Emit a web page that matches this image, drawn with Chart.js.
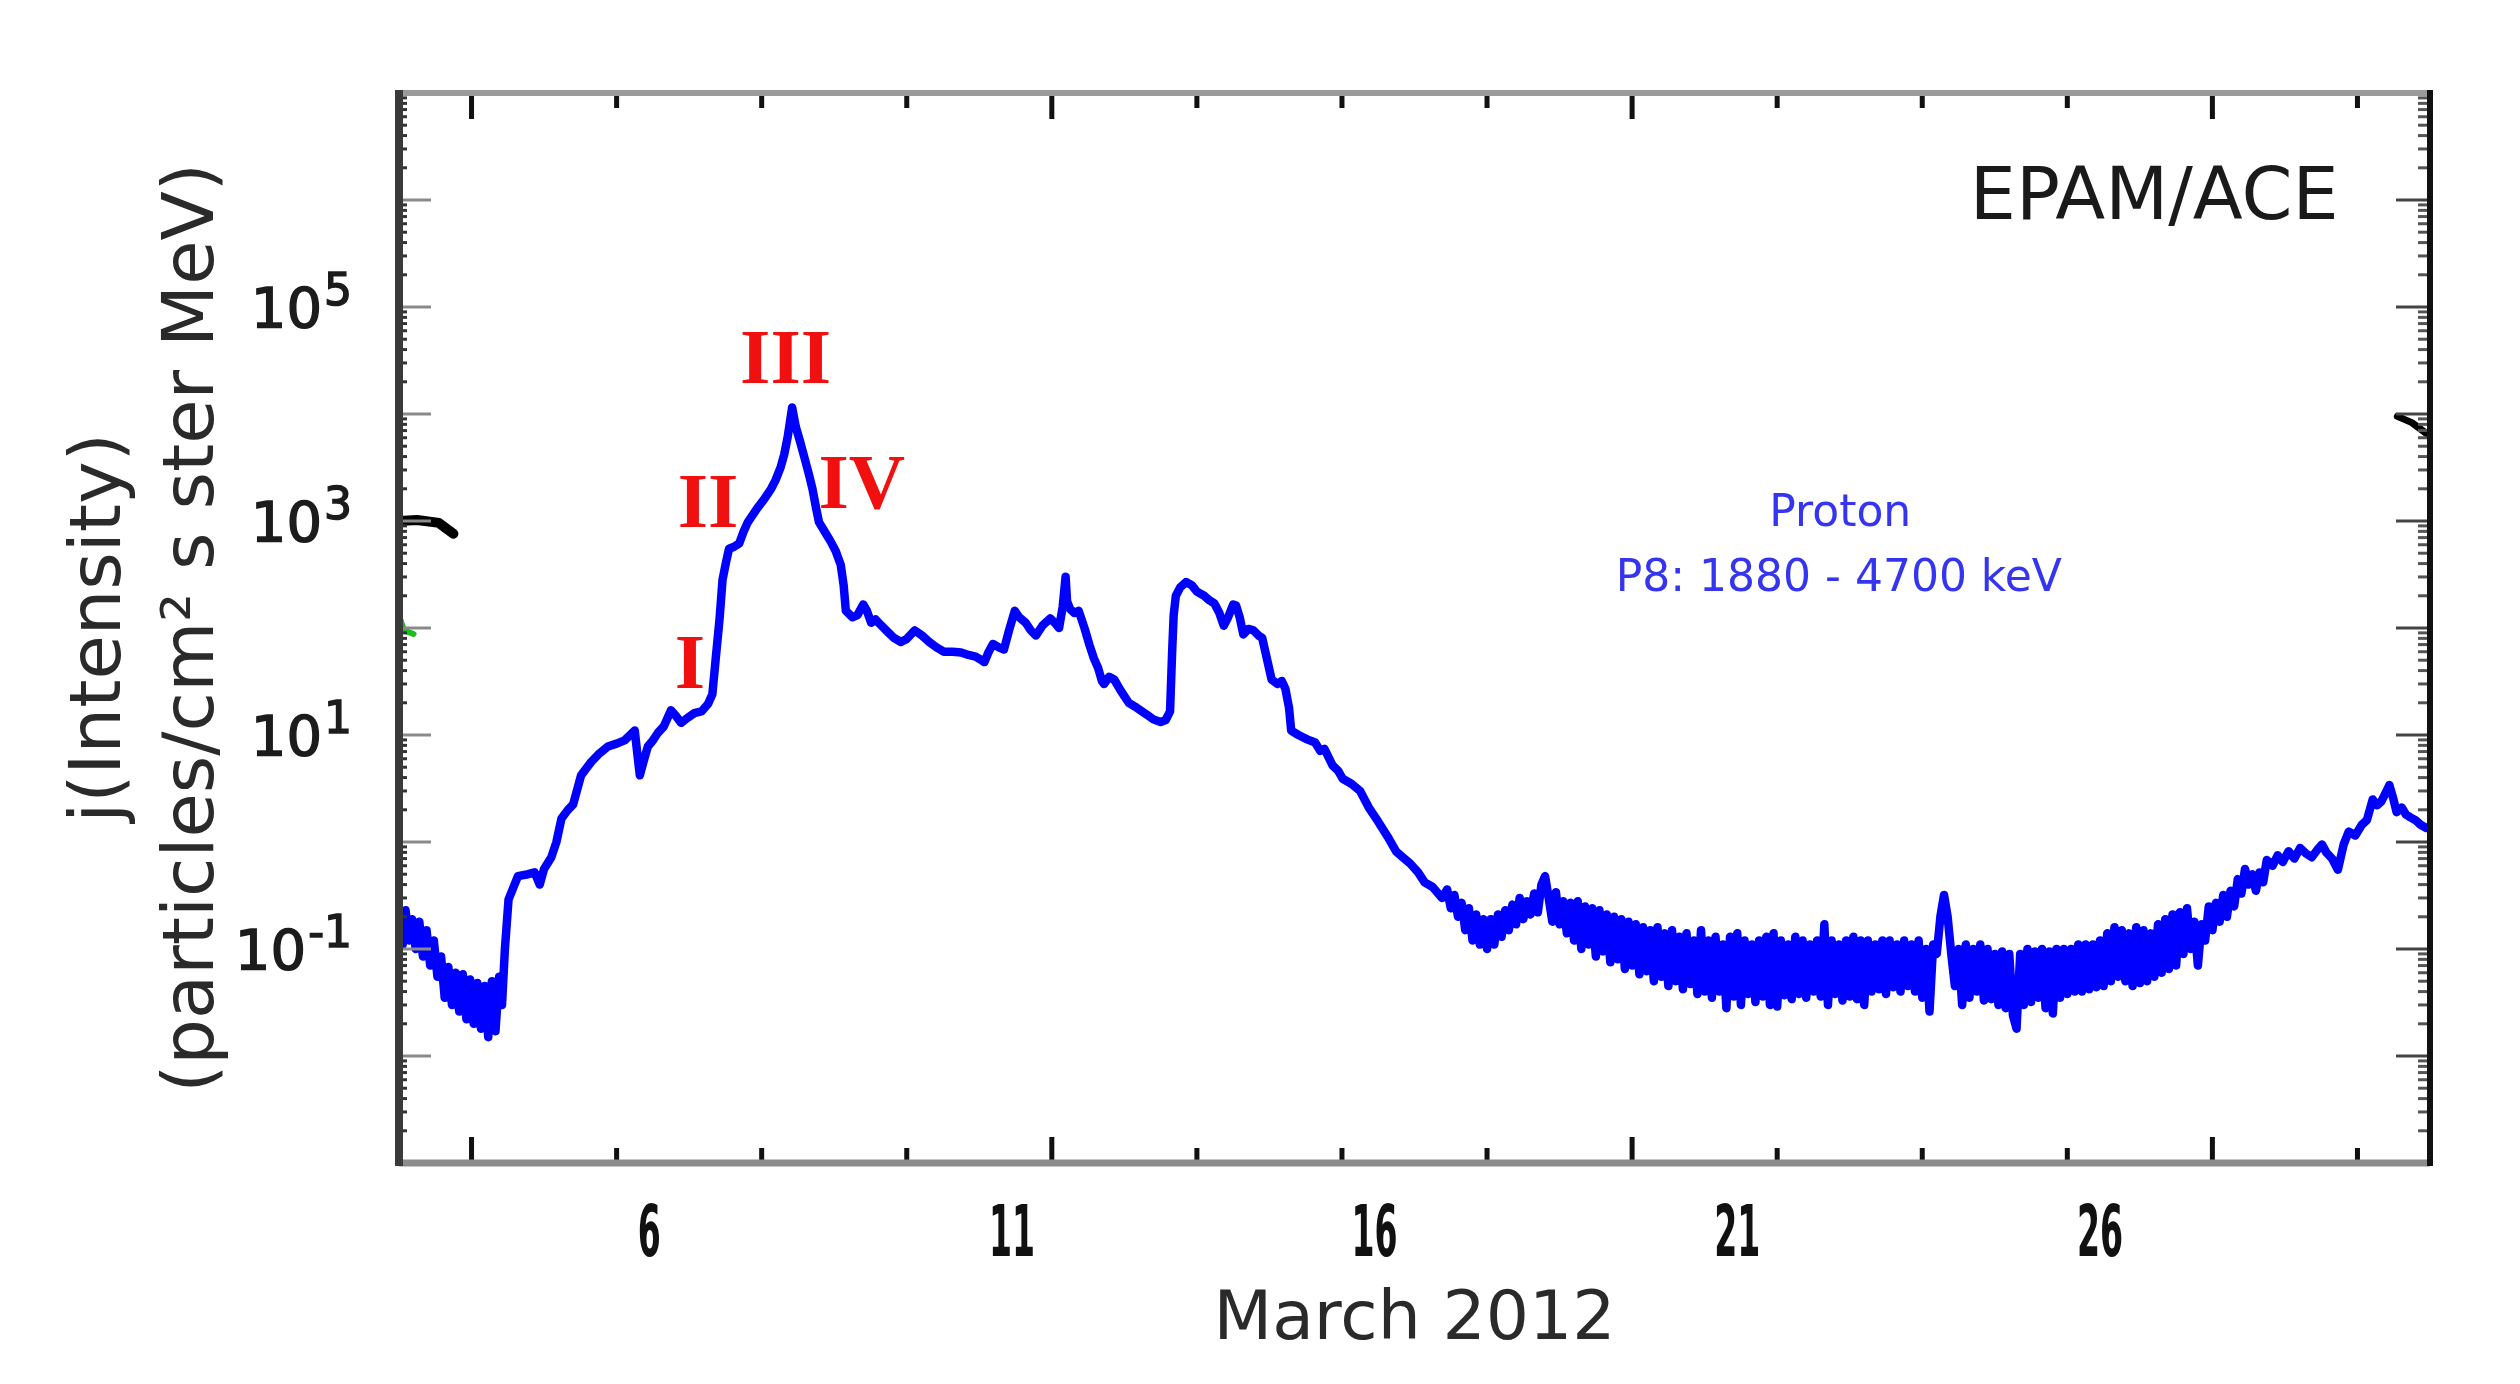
<!DOCTYPE html>
<html>
<head>
<meta charset="utf-8">
<title>EPAM/ACE proton intensity, March 2012</title>
<script src="https://cdn.jsdelivr.net/npm/chart.js@4.4.1/dist/chart.umd.min.js"></script>
<style>
    html, body { margin: 0; padding: 0; background: #fff; }
    #wrap { position: relative; width: 2520px; height: 1384px; }
</style>
</head>
<body>
<div id="wrap"><canvas id="chart"></canvas></div>
<script>
// Day of March 2012 (as labelled on the axis) and P8 intensity.
const preEventQuiet = [
    [2.55, 0.21], [2.60, 0.11], [2.64, 0.23], [2.69, 0.12], [2.73, 0.19], [2.78, 0.10],
    [2.83, 0.18], [2.88, 0.085], [2.93, 0.15], [2.98, 0.07], [3.03, 0.12], [3.08, 0.055],
    [3.13, 0.085], [3.18, 0.035], [3.23, 0.068], [3.28, 0.03], [3.33, 0.06], [3.38, 0.026],
    [3.43, 0.058], [3.48, 0.022], [3.53, 0.052], [3.58, 0.02], [3.63, 0.048], [3.68, 0.018],
    [3.73, 0.045], [3.78, 0.015], [3.83, 0.05], [3.88, 0.017], [3.93, 0.055], [3.97, 0.03],
];

const eventRise = [
    [4.01, 0.10], [4.06, 0.29], [4.19, 0.48], [4.33, 0.50], [4.42, 0.52], [4.49, 0.40],
    [4.55, 0.56], [4.65, 0.72], [4.72, 1.0], [4.79, 1.66], [4.88, 2.0], [4.95, 2.24],
    [5.06, 4.2], [5.20, 5.6], [5.30, 6.6], [5.43, 7.8], [5.55, 8.3], [5.66, 8.9],
    [5.80, 11], [5.84, 6.3], [5.87, 4.2], [5.92, 5.6], [5.98, 7.8], [6.05, 8.9],
    [6.12, 10.5], [6.20, 12], [6.30, 17], [6.37, 15], [6.44, 13], [6.53, 14.5],
    [6.62, 16], [6.72, 16.6], [6.81, 19.5], [6.87, 24], [6.92, 55], [6.97, 123],
    [7.01, 282], [7.06, 417], [7.10, 550], [7.17, 575], [7.24, 617], [7.30, 794],
    [7.36, 977], [7.49, 1320], [7.58, 1585], [7.68, 2000], [7.74, 2400], [7.81, 3160],
    [7.86, 4170], [7.91, 6170], [7.97, 11500],
];

const decay = [
    [8.02, 7600], [8.08, 5500], [8.14, 3900], [8.20, 2750], [8.25, 2000], [8.30, 1320],
    [8.34, 977], [8.42, 794], [8.50, 645], [8.57, 525], [8.64, 389], [8.68, 251],
    [8.71, 145], [8.80, 126], [8.87, 132], [8.95, 166], [9.00, 145], [9.06, 112],
    [9.12, 120], [9.19, 107], [9.28, 93], [9.37, 81], [9.47, 74], [9.55, 79],
    [9.66, 95], [9.76, 85], [9.86, 74], [9.96, 66], [10.06, 60], [10.18, 60],
    [10.30, 59], [10.40, 56], [10.50, 54], [10.58, 50], [10.62, 48], [10.68, 60],
    [10.74, 71], [10.82, 66], [10.89, 63], [10.96, 95], [11.04, 145], [11.10, 126],
    [11.19, 112], [11.26, 95], [11.33, 85], [11.42, 105], [11.53, 123], [11.60, 110],
    [11.65, 100], [11.70, 158], [11.74, 302], [11.76, 178], [11.80, 151], [11.86, 138],
    [11.92, 145], [12.00, 100], [12.07, 69], [12.13, 52], [12.19, 42], [12.24, 32],
    [12.27, 30], [12.34, 35], [12.41, 33], [12.50, 26], [12.61, 20], [12.72, 18],
    [12.86, 15.5], [12.95, 14], [13.05, 13.2], [13.12, 13.8], [13.18, 16.6], [13.21, 63],
    [13.23, 132], [13.26, 200], [13.32, 240], [13.40, 269], [13.48, 251], [13.55, 219],
    [13.65, 200], [13.72, 182], [13.79, 170], [13.86, 138], [13.92, 105], [13.98, 126],
    [14.05, 166], [14.09, 162], [14.14, 126], [14.19, 87], [14.26, 98], [14.33, 95],
    [14.40, 85], [14.45, 81], [14.52, 50], [14.58, 33], [14.66, 30], [14.72, 32],
    [14.77, 27], [14.82, 18], [14.85, 11], [14.95, 10], [15.07, 9.1], [15.18, 8.5],
    [15.25, 7.1], [15.31, 7.4], [15.42, 5.2], [15.50, 4.6], [15.56, 3.9], [15.68, 3.5],
    [15.80, 3.0], [15.92, 2.1], [16.05, 1.55], [16.18, 1.12], [16.30, 0.81], [16.40, 0.71],
    [16.49, 0.63], [16.60, 0.52], [16.69, 0.42], [16.80, 0.38], [16.93, 0.30],
];

const quietBand = [
    [17.00, 0.36], [17.05, 0.24], [17.10, 0.32], [17.15, 0.20], [17.20, 0.27], [17.25, 0.15],
    [17.30, 0.24], [17.35, 0.12], [17.40, 0.21], [17.45, 0.11], [17.50, 0.19], [17.55, 0.10],
    [17.60, 0.19], [17.65, 0.11], [17.70, 0.21], [17.75, 0.13], [17.80, 0.23], [17.85, 0.15],
    [17.90, 0.26], [17.95, 0.17], [18.00, 0.30], [18.05, 0.19], [18.10, 0.28], [18.15, 0.21],
    [18.20, 0.33], [18.25, 0.22], [18.30, 0.40], [18.35, 0.48], [18.40, 0.30], [18.45, 0.18],
    [18.50, 0.34], [18.55, 0.17], [18.60, 0.28], [18.65, 0.14], [18.70, 0.27], [18.75, 0.12],
    [18.80, 0.28], [18.85, 0.10], [18.90, 0.25], [18.95, 0.11], [19.00, 0.24], [19.05, 0.085],
    [19.10, 0.23], [19.15, 0.095], [19.20, 0.21], [19.25, 0.075], [19.30, 0.20], [19.35, 0.08],
    [19.40, 0.19], [19.45, 0.065], [19.50, 0.18], [19.55, 0.07], [19.60, 0.17], [19.65, 0.058],
    [19.70, 0.16], [19.75, 0.062], [19.80, 0.15], [19.85, 0.05], [19.90, 0.16], [19.95, 0.055],
    [20.00, 0.14], [20.05, 0.045], [20.10, 0.15], [20.15, 0.05], [20.20, 0.13], [20.25, 0.042],
    [20.30, 0.14], [20.35, 0.047], [20.40, 0.12], [20.45, 0.038], [20.50, 0.15], [20.55, 0.04],
    [20.60, 0.12], [20.65, 0.035], [20.70, 0.13], [20.75, 0.04], [20.80, 0.11], [20.85, 0.028],
    [20.90, 0.13], [20.95, 0.036], [21.00, 0.14], [21.05, 0.03], [21.10, 0.12], [21.15, 0.038],
    [21.20, 0.11], [21.25, 0.032], [21.30, 0.12], [21.35, 0.036], [21.40, 0.13], [21.45, 0.03],
    [21.50, 0.14], [21.55, 0.029], [21.60, 0.12], [21.65, 0.037], [21.70, 0.11], [21.75, 0.034],
    [21.80, 0.13], [21.85, 0.038], [21.90, 0.12], [21.95, 0.035], [22.00, 0.11], [22.05, 0.04],
    [22.10, 0.12], [22.15, 0.036], [22.20, 0.17], [22.25, 0.03], [22.30, 0.12], [22.35, 0.038],
    [22.40, 0.11], [22.45, 0.033], [22.50, 0.12], [22.55, 0.036], [22.60, 0.13], [22.65, 0.034],
    [22.70, 0.12], [22.75, 0.03], [22.80, 0.12], [22.85, 0.04], [22.90, 0.11], [22.95, 0.042],
    [23.00, 0.12], [23.05, 0.038], [23.10, 0.12], [23.15, 0.044], [23.20, 0.11], [23.25, 0.04],
    [23.30, 0.12], [23.35, 0.045], [23.40, 0.11], [23.45, 0.04], [23.50, 0.12], [23.55, 0.035],
    [23.60, 0.10], [23.65, 0.026], [23.70, 0.11], [23.75, 0.09], [23.80, 0.20], [23.85, 0.32],
    [23.90, 0.20], [23.95, 0.09], [24.00, 0.045], [24.05, 0.10], [24.10, 0.03], [24.15, 0.11],
    [24.20, 0.035], [24.25, 0.10], [24.30, 0.04], [24.35, 0.11], [24.40, 0.033], [24.45, 0.10],
    [24.50, 0.034], [24.55, 0.09], [24.60, 0.03], [24.65, 0.095], [24.70, 0.028], [24.75, 0.09],
    [24.80, 0.024], [24.85, 0.018], [24.90, 0.09], [24.95, 0.03], [25.00, 0.10], [25.05, 0.032],
    [25.10, 0.095], [25.15, 0.035], [25.20, 0.10], [25.25, 0.028], [25.30, 0.095], [25.35, 0.025],
    [25.40, 0.10], [25.45, 0.035], [25.50, 0.10], [25.55, 0.038], [25.60, 0.10], [25.65, 0.04],
    [25.70, 0.11], [25.75, 0.04], [25.80, 0.11], [25.85, 0.042], [25.90, 0.11], [25.95, 0.044],
    [26.00, 0.12], [26.05, 0.045], [26.10, 0.14], [26.15, 0.05], [26.20, 0.16], [26.25, 0.055],
    [26.30, 0.15], [26.35, 0.05], [26.40, 0.14], [26.45, 0.045], [26.50, 0.16], [26.55, 0.048],
    [26.60, 0.15], [26.65, 0.05], [26.70, 0.14], [26.75, 0.055], [26.80, 0.17], [26.85, 0.06],
    [26.90, 0.19], [26.95, 0.065], [27.00, 0.21], [27.05, 0.07], [27.10, 0.22], [27.15, 0.09],
    [27.20, 0.24], [27.25, 0.10], [27.30, 0.18], [27.35, 0.07], [27.40, 0.17], [27.45, 0.12],
    [27.50, 0.25], [27.55, 0.15], [27.60, 0.27], [27.65, 0.18], [27.70, 0.32], [27.75, 0.20],
    [27.80, 0.35], [27.85, 0.25], [27.90, 0.45], [27.95, 0.33], [28.00, 0.56], [28.05, 0.40],
    [28.10, 0.50], [28.15, 0.35], [28.20, 0.52], [28.25, 0.42], [28.30, 0.68],
];

const lateRise = [
    [28.38, 0.60], [28.45, 0.75], [28.52, 0.65], [28.60, 0.82], [28.68, 0.70], [28.76, 0.88],
    [28.84, 0.78], [28.92, 0.72], [29.00, 0.85], [29.06, 0.95], [29.12, 0.80], [29.20, 0.70],
    [29.28, 0.55], [29.36, 0.95], [29.43, 1.25], [29.52, 1.15], [29.61, 1.45], [29.68, 1.6],
    [29.76, 2.5], [29.82, 2.2], [29.88, 2.4], [29.94, 2.9], [29.99, 3.4], [30.04, 2.6],
    [30.09, 1.9], [30.16, 2.1], [30.22, 1.8], [30.28, 1.7], [30.35, 1.6], [30.42, 1.45],
    [30.50, 1.35],
];

// Stubs of the other channels that poke in at the frame edges.
const blackTraceLeft = [[2.55, 1000], [2.8, 1020], [3.1, 960], [3.3, 760]];
const greenTraceLeft = [[2.55, 130], [2.62, 95], [2.75, 88]];
const blackTraceRight = [[30.1, 9500], [30.3, 8300], [30.55, 6200]];

const xLabelDays = [6, 11, 16, 21, 26];
const xTickDays = [3.55, 5.55, 7.55, 9.55, 11.55, 13.55, 15.55, 17.55, 19.55, 21.55, 23.55, 25.55, 27.55, 29.55];
const xMajorTickDays = [3.55, 11.55, 19.55, 27.55];
const yLabelExponents = [5, 3, 1, -1];
const yDecades = [-3, -2, -1, 0, 1, 2, 3, 4, 5, 6, 7];

const phaseLabels = [
    { text: "I", day: 6.56, flux: 48 },
    { text: "II", day: 6.81, flux: 1550 },
    { text: "III", day: 7.88, flux: 34000 },
    { text: "IV", day: 8.93, flux: 2300 },
];

const instrumentLabel = { text: "EPAM/ACE", day: 29.29, flux: 1.2e6 };
const channelLabels = [
    { text: "Proton", day: 22.42, flux: 1260 },
    { text: "P8: 1880 - 4700 keV", day: 22.40, flux: 316 },
];

const SANS = "'DejaVu Sans', Verdana, sans-serif";
const SERIF = "'Liberation Serif', 'DejaVu Serif', serif";

function toPoints(pairs) {
    return pairs.map(([x, y]) => ({ x, y }));
}

// Inward tick marks, the frame, superscript decade labels and the in-plot text.
const framePlugin = {
    id: "frame",
    afterDraw(chart) {
        const { ctx, chartArea: a, scales } = chart;
        const x = scales.x;
        const y = scales.y;
        ctx.save();

        // y ticks, both sides
        ctx.lineCap = "butt";
        ctx.lineWidth = 3;
        for (const k of yDecades) {
            for (let m = 1; m < 10; m++) {
                const v = m * Math.pow(10, k);
                if (v < y.min || v > y.max) continue;
                const py = y.getPixelForValue(v);
                const major = m === 1;
                ctx.strokeStyle = major ? "#8a8a8a" : "#333";
                ctx.beginPath();
                ctx.moveTo(a.left, py);
                ctx.lineTo(a.left + (major ? 32 : 8), py);
                ctx.stroke();
                ctx.strokeStyle = major ? "#444" : "#555";
                ctx.beginPath();
                ctx.moveTo(a.right, py);
                ctx.lineTo(a.right - (major ? 34 : 12), py);
                ctx.stroke();
            }
        }

        // x ticks, top and bottom
        ctx.strokeStyle = "#111";
        ctx.lineWidth = 5;
        for (const d of xTickDays) {
            const px = x.getPixelForValue(d);
            const len = xMajorTickDays.includes(d) ? 26 : 15;
            ctx.beginPath();
            ctx.moveTo(px, a.bottom);
            ctx.lineTo(px, a.bottom - len);
            ctx.moveTo(px, a.top);
            ctx.lineTo(px, a.top + len);
            ctx.stroke();
        }

        // frame
        const side = (color, width, x1, y1, x2, y2) => {
            ctx.strokeStyle = color;
            ctx.lineWidth = width;
            ctx.beginPath();
            ctx.moveTo(x1, y1);
            ctx.lineTo(x2, y2);
            ctx.stroke();
        };
        side("#9a9a9a", 6, a.left, a.top, a.right, a.top);
        side("#8c8c8c", 7, a.left, a.bottom, a.right, a.bottom);
        side("#3a3a3a", 8, a.left, a.top - 3, a.left, a.bottom + 3);
        side("#111", 6, a.right, a.top - 3, a.right, a.bottom + 3);

        // x labels (narrow digits)
        ctx.fillStyle = "#111";
        ctx.font = `bold 72px ${SANS}`;
        ctx.textAlign = "center";
        ctx.textBaseline = "alphabetic";
        for (const d of xLabelDays) {
            ctx.save();
            ctx.translate(x.getPixelForValue(d), a.bottom + 93);
            ctx.scale(0.46, 1);
            ctx.fillText(String(d), 0, 0);
            ctx.restore();
        }

        // y labels: 10 with a raised exponent
        ctx.fillStyle = "#1c1c1c";
        ctx.textAlign = "left";
        for (const k of yLabelExponents) {
            const py = y.getPixelForValue(Math.pow(10, k));
            const base = "10";
            const exp = k < 0 ? "-" + Math.abs(k) : String(k);
            ctx.font = `56px ${SANS}`;
            const wBase = ctx.measureText(base).width;
            ctx.font = `44px ${SANS}`;
            const wExp = ctx.measureText(exp).width;
            const right = a.left - 47;
            const left = right - wBase - wExp - 2;
            const baseline = py + 20;
            ctx.font = `56px ${SANS}`;
            ctx.fillText(base, left, baseline);
            ctx.strokeStyle = "#1c1c1c";
            ctx.lineWidth = 1.5;
            ctx.strokeText(base, left, baseline);
            ctx.font = `44px ${SANS}`;
            ctx.fillText(exp, left + wBase + 2, baseline - 22);
            ctx.strokeText(exp, left + wBase + 2, baseline - 22);
        }

        // phase numerals
        ctx.fillStyle = "#f01010";
        ctx.font = `bold 78px ${SERIF}`;
        ctx.textAlign = "center";
        for (const p of phaseLabels) {
            ctx.fillText(p.text, x.getPixelForValue(p.day), y.getPixelForValue(p.flux) + 26);
        }

        ctx.fillStyle = "#1a1a1a";
        ctx.font = `73px ${SANS}`;
        ctx.textAlign = "right";
        ctx.fillText(instrumentLabel.text, x.getPixelForValue(instrumentLabel.day),
            y.getPixelForValue(instrumentLabel.flux) + 27);

        ctx.fillStyle = "#3535f0";
        ctx.font = `44px ${SANS}`;
        ctx.textAlign = "center";
        for (const c of channelLabels) {
            ctx.fillText(c.text, x.getPixelForValue(c.day), y.getPixelForValue(c.flux) + 16);
        }

        ctx.restore();
    },
};

function buildChart() {
    const p8Flux = [].concat(preEventQuiet, eventRise, decay, quietBand, lateRise);
    const line = (data, color, width) => ({
        data: toPoints(data),
        borderColor: color,
        borderWidth: width,
        pointRadius: 0,
        tension: 0,
        borderJoinStyle: "round",
        borderCapStyle: "round",
    });

    return new Chart(document.getElementById("chart"), {
        type: "line",
        data: {
            datasets: [
                line(blackTraceLeft, "#000", 10),
                line(greenTraceLeft, "#1bbf1b", 6),
                line(blackTraceRight, "#000", 7),
                line(p8Flux, "#0000ff", 8.5),
            ],
        },
        options: {
            responsive: true,
            maintainAspectRatio: false,
            devicePixelRatio: 1,
            animation: false,
            events: [],
            layout: { padding: { top: 93, right: 90, bottom: 0, left: 0 } },
            plugins: { legend: { display: false }, tooltip: { enabled: false } },
            scales: {
                x: {
                    type: "linear",
                    min: 2.55,
                    max: 30.55,
                    grid: { display: false },
                    border: { display: false },
                    ticks: { display: false },
                    title: {
                        display: true,
                        text: "March 2012",
                        color: "#2a2a2a",
                        font: { family: SANS, size: 68, lineHeight: 1.2 },
                        padding: { top: 0, bottom: 22 },
                    },
                    afterFit(scale) { scale.height = 221; },
                },
                y: {
                    type: "logarithmic",
                    min: 1e-3,
                    max: 1e7,
                    grid: { display: false },
                    border: { display: false },
                    ticks: { display: false },
                    title: {
                        display: true,
                        text: ["j(Intensity)", "(particles/cm² s ster MeV)"],
                        color: "#2a2a2a",
                        font: { family: SANS, size: 72, lineHeight: 1.3 },
                        padding: { top: 54, bottom: 0 },
                    },
                    afterFit(scale) { scale.width = 399; },
                },
            },
        },
        plugins: [framePlugin],
    });
}

buildChart();
</script>
</body>
</html>
